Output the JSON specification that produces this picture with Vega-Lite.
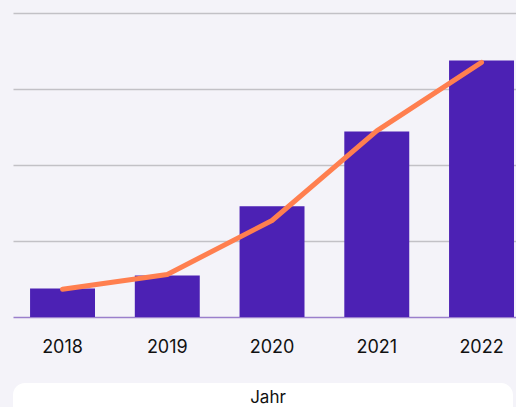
{
  "$schema": "https://vega.github.io/schema/vega-lite/v6.json",
  "background": "#f4f3f9",
  "padding": {"left": 13, "top": 13, "right": 0, "bottom": 0},
  "spacing": 27,
  "config": {"view": {"stroke": null}, "font": "Inter"},
  "data": {
    "values": [
      {"year": "2018", "bar": 37.5, "line": 36.5},
      {"year": "2019", "bar": 54.6, "line": 56},
      {"year": "2020", "bar": 145.8, "line": 127},
      {"year": "2021", "bar": 244, "line": 245},
      {"year": "2022", "bar": 337.5, "line": 335}
    ]
  },
  "vconcat": [
    {
      "width": 503,
      "height": 304,
      "encoding": {
        "x": {
          "field": "year",
          "type": "ordinal",
          "scale": {"paddingInner": 0.38, "paddingOuter": 0.091, "align": 0.895},
          "axis": {
            "title": null,
            "labelAngle": 0,
            "labelFont": "Inter",
            "labelFontSize": 18,
            "labelColor": "#111111",
            "labelPadding": 21,
            "ticks": false,
            "domainColor": "#9a7fcc",
            "domainWidth": 1.5
          }
        }
      },
      "layer": [
        {
          "mark": {"type": "bar", "color": "#4c21b4"},
          "encoding": {
            "y": {
              "field": "bar",
              "type": "quantitative",
              "scale": {"domain": [0, 400]},
              "axis": {
                "title": null,
                "labels": false,
                "ticks": false,
                "domain": false,
                "grid": true,
                "values": [100, 200, 300, 400],
                "gridColor": "#c2c1c6",
                "gridWidth": 1.5
              }
            }
          }
        },
        {
          "mark": {"type": "line", "color": "#ff7f4f", "strokeWidth": 5, "strokeCap": "round", "strokeJoin": "round"},
          "encoding": {"y": {"field": "line", "type": "quantitative"}}
        }
      ]
    },
    {
      "width": 500,
      "height": 24,
      "data": {"values": [{"t": "Jahr"}]},
      "layer": [
        {"mark": {"type": "rect", "fill": "white", "cornerRadiusTopLeft": 14, "cornerRadiusTopRight": 14}},
        {"mark": {"type": "text", "font": "Inter", "fontSize": 17, "color": "#111111", "dy": 3, "dx": 5}, "encoding": {"text": {"field": "t"}}}
      ]
    }
  ]
}
